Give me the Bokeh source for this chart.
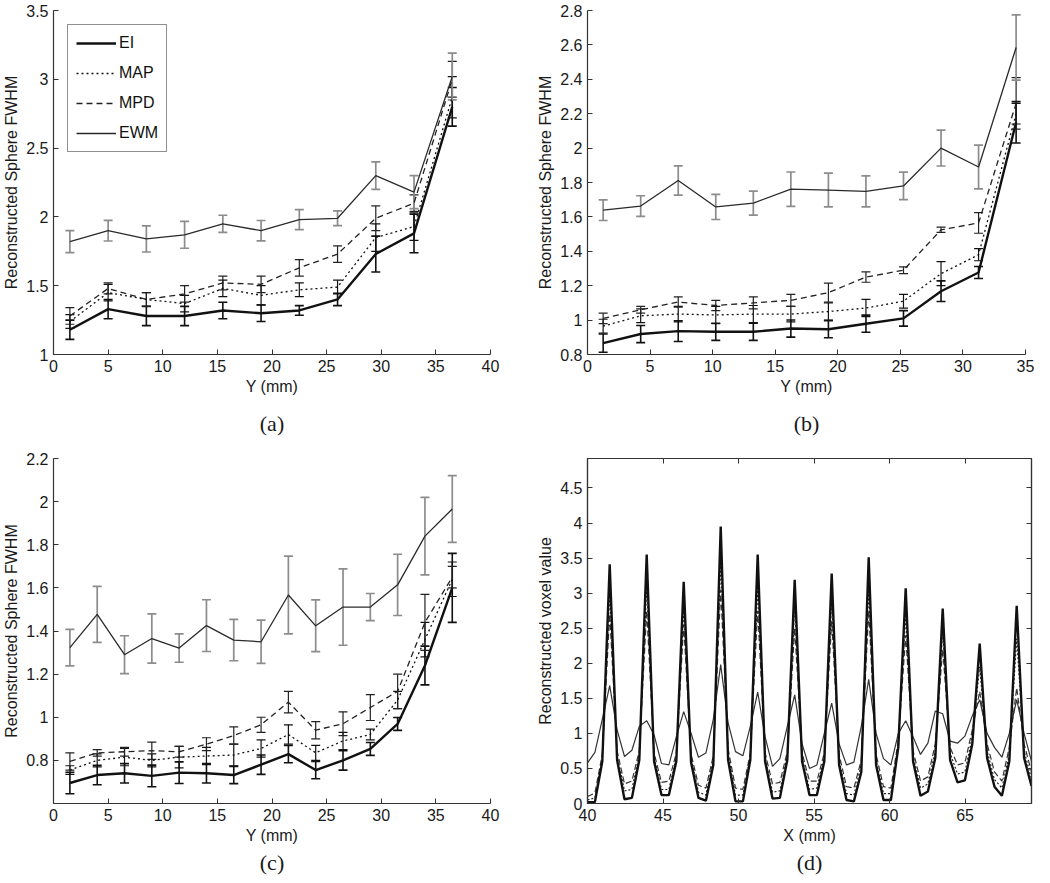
from bokeh.plotting import figure
from bokeh.models import (ColumnDataSource, Whisker, TeeHead, Range1d, FixedTicker,
                          LinearAxis, Title)
from bokeh.layouts import column, row
from bokeh.embed import file_html
from bokeh.resources import INLINE

FONT = "Liberation Sans"
SERIF = "Liberation Serif"

# ---------------- data ----------------
series_names = ["EI", "MAP", "MPD", "EWM"]

# panel (a)
a_pos = [1.5, 5, 8.5, 12, 15.5, 19, 22.5, 26, 29.5, 33, 36.5]
a_ei = [1.18, 1.33, 1.28, 1.28, 1.32, 1.30, 1.32, 1.40, 1.73, 1.88, 2.80]
a_ei_err = [0.07, 0.07, 0.07, 0.07, 0.06, 0.06, 0.035, 0.045, 0.13, 0.14, 0.14]
a_map = [1.24, 1.45, 1.40, 1.37, 1.48, 1.43, 1.47, 1.49, 1.85, 1.93, 2.87]
a_map_err = [0.05, 0.06, 0.05, 0.06, 0.06, 0.07, 0.05, 0.05, 0.10, 0.10, 0.15]
a_mpd = [1.28, 1.48, 1.40, 1.44, 1.52, 1.51, 1.63, 1.73, 1.99, 2.10, 3.00]
a_mpd_err = [0.06, 0.04, 0.05, 0.06, 0.05, 0.06, 0.06, 0.06, 0.09, 0.06, 0.13]
a_ewm = [1.82, 1.90, 1.84, 1.87, 1.95, 1.90, 1.98, 1.99, 2.30, 2.18, 3.02]
a_ewm_err = [0.08, 0.075, 0.095, 0.098, 0.062, 0.074, 0.073, 0.054, 0.10, 0.12, 0.17]

# panel (b)
b_pos = [1.25, 4.25, 7.25, 10.25, 13.25, 16.25, 19.25, 22.25, 25.25, 28.25, 31.25, 34.25]
b_ei = [0.866, 0.919, 0.936, 0.932, 0.932, 0.951, 0.947, 0.979, 1.01, 1.168, 1.277, 2.15]
b_ei_err = [0.053, 0.05, 0.06, 0.05, 0.05, 0.05, 0.05, 0.05, 0.045, 0.06, 0.035, 0.12]
b_map = [0.965, 1.025, 1.035, 1.03, 1.035, 1.035, 1.05, 1.07, 1.11, 1.27, 1.38, 2.2]
b_map_err = [0.04, 0.04, 0.045, 0.05, 0.05, 0.045, 0.05, 0.05, 0.04, 0.07, 0.035, 0.06]
b_mpd = [1.01, 1.06, 1.105, 1.085, 1.10, 1.115, 1.16, 1.25, 1.29, 1.525, 1.565, 2.26]
b_mpd_err = [0.03, 0.02, 0.03, 0.03, 0.035, 0.035, 0.055, 0.03, 0.02, 0.015, 0.06, 0.15]
b_ewm = [1.639, 1.663, 1.812, 1.658, 1.68, 1.761, 1.756, 1.748, 1.78, 2.0, 1.89, 2.585]
b_ewm_err = [0.06, 0.06, 0.085, 0.073, 0.07, 0.10, 0.098, 0.09, 0.08, 0.104, 0.127, 0.19]

# panel (c)
c_pos = [1.5, 4, 6.5, 9, 11.5, 14, 16.5, 19, 21.5, 24, 26.5, 29, 31.5, 34, 36.5]
c_ei = [0.695, 0.732, 0.74, 0.728, 0.743, 0.74, 0.732, 0.78, 0.829, 0.755, 0.80, 0.853, 0.969, 1.24, 1.6]
c_ei_err = [0.05, 0.045, 0.045, 0.05, 0.05, 0.045, 0.04, 0.045, 0.04, 0.04, 0.045, 0.03, 0.03, 0.09, 0.16]
c_map = [0.755, 0.80, 0.815, 0.80, 0.815, 0.82, 0.825, 0.855, 0.92, 0.835, 0.89, 0.92, 1.08, 1.36, 1.64]
c_map_err = [0.02, 0.03, 0.04, 0.03, 0.05, 0.04, 0.05, 0.04, 0.045, 0.035, 0.04, 0.025, 0.04, 0.08, 0.08]
c_mpd = [0.795, 0.835, 0.84, 0.845, 0.84, 0.875, 0.915, 0.965, 1.07, 0.94, 0.97, 1.045, 1.12, 1.44, 1.65]
c_mpd_err = [0.04, 0.015, 0.02, 0.04, 0.025, 0.03, 0.04, 0.035, 0.05, 0.04, 0.055, 0.06, 0.08, 0.13, 0.05]
c_ewm = [1.323, 1.477, 1.29, 1.365, 1.321, 1.425, 1.358, 1.35, 1.567, 1.424, 1.511, 1.511, 1.614, 1.84, 1.966]
c_ewm_err = [0.085, 0.13, 0.088, 0.114, 0.066, 0.12, 0.096, 0.1, 0.18, 0.12, 0.177, 0.063, 0.142, 0.18, 0.155]

# panel (d): voxel profile along X (mm)
d_x = [40.00, 40.49, 40.98, 41.47, 41.96, 42.45, 42.94, 43.43, 43.92, 44.41,
       44.90, 45.39, 45.88, 46.37, 46.86, 47.35, 47.84, 48.33, 48.82, 49.31,
       49.80, 50.29, 50.78, 51.27, 51.76, 52.25, 52.74, 53.23, 53.72, 54.21,
       54.70, 55.19, 55.68, 56.17, 56.66, 57.15, 57.64, 58.13, 58.62, 59.11,
       59.60, 60.09, 60.58, 61.07, 61.56, 62.05, 62.54, 63.03, 63.52, 64.01,
       64.50, 64.99, 65.48, 65.97, 66.46, 66.95, 67.44, 67.93, 68.42, 68.91,
       69.40]
d_ei = [0.02, 0.02, 0.60, 3.41, 0.62, 0.06, 0.08, 0.62, 3.55, 0.60,
        0.12, 0.12, 0.60, 3.16, 0.58, 0.08, 0.04, 0.55, 3.95, 0.62,
        0.03, 0.03, 0.62, 3.55, 0.60, 0.07, 0.08, 0.62, 3.19, 0.60,
        0.12, 0.12, 0.60, 3.28, 0.55, 0.05, 0.03, 0.45, 3.51, 0.55,
        0.05, 0.05, 0.80, 3.07, 0.60, 0.11, 0.17, 0.65, 2.78, 0.62,
        0.30, 0.33, 0.85, 2.28, 0.65, 0.24, 0.11, 0.60, 2.82, 0.65,
        0.25]
d_map = [0.05, 0.08, 0.65, 3.00, 0.68, 0.18, 0.20, 0.70, 3.10, 0.66,
         0.20, 0.20, 0.66, 2.80, 0.65, 0.16, 0.12, 0.62, 3.45, 0.70,
         0.12, 0.12, 0.68, 3.10, 0.66, 0.16, 0.18, 0.68, 2.80, 0.66,
         0.20, 0.22, 0.66, 2.90, 0.62, 0.14, 0.12, 0.55, 3.05, 0.62,
         0.14, 0.14, 0.85, 2.70, 0.68, 0.22, 0.28, 0.75, 2.45, 0.72,
         0.42, 0.45, 0.95, 1.95, 0.75, 0.34, 0.22, 0.70, 2.35, 0.75,
         0.35]
d_mpd = [0.10, 0.15, 0.70, 2.70, 0.75, 0.28, 0.32, 0.75, 2.75, 0.72,
         0.30, 0.32, 0.72, 2.55, 0.70, 0.26, 0.22, 0.68, 3.05, 0.78,
         0.22, 0.20, 0.72, 2.75, 0.72, 0.28, 0.30, 0.74, 2.50, 0.72,
         0.32, 0.32, 0.72, 2.60, 0.70, 0.24, 0.22, 0.62, 2.75, 0.70,
         0.24, 0.22, 0.90, 2.40, 0.75, 0.32, 0.38, 0.85, 2.20, 0.80,
         0.55, 0.58, 1.05, 1.60, 0.85, 0.45, 0.32, 0.80, 1.65, 0.85,
         0.45]
d_ewm = [0.58, 0.73, 1.20, 1.68, 1.05, 0.67, 0.76, 1.10, 1.18, 0.98,
         0.57, 0.55, 0.95, 1.31, 1.00, 0.66, 0.72, 1.20, 1.98, 1.15,
         0.74, 0.68, 1.10, 1.59, 0.95, 0.53, 0.64, 1.10, 1.55, 0.85,
         0.50, 0.55, 1.00, 1.43, 0.85, 0.55, 0.59, 1.10, 1.77, 1.00,
         0.64, 0.55, 1.00, 1.18, 0.95, 0.70, 0.86, 1.32, 1.28, 0.89,
         0.86, 0.96, 1.25, 1.48, 1.00, 0.80, 0.66, 1.00, 1.48, 1.00,
         0.60]

# tick labels
a_xticks = [0, 5, 10, 15, 20, 25, 30, 35, 40]
a_yticks = [1, 1.5, 2, 2.5, 3, 3.5]
a_ylabels = ["1", "1.5", "2", "2.5", "3", "3.5"]
b_xticks = [0, 5, 10, 15, 20, 25, 30, 35]
b_yticks = [0.8, 1.0, 1.2, 1.4, 1.6, 1.8, 2.0, 2.2, 2.4, 2.6, 2.8]
b_ylabels = ["0.8", "1", "1.2", "1.4", "1.6", "1.8", "2", "2.2", "2.4", "2.6", "2.8"]
c_xticks = [0, 5, 10, 15, 20, 25, 30, 35, 40]
c_yticks = [0.8, 1.0, 1.2, 1.4, 1.6, 1.8, 2.0, 2.2]
c_ylabels = ["0.8", "1", "1.2", "1.4", "1.6", "1.8", "2", "2.2"]
d_xticks = [40, 45, 50, 55, 60, 65]
d_yticks = [0, 0.5, 1, 1.5, 2, 2.5, 3, 3.5, 4, 4.5]
d_ylabels = ["0", "0.5", "1", "1.5", "2", "2.5", "3", "3.5", "4", "4.5"]

# ---------------- styles ----------------
STY = {
    "EI":  dict(color="#111111", width=2.4, dash="solid", bar="#111111", bar_w=1.6),
    "MAP": dict(color="#111111", width=1.3, dash="2 3", bar="#111111", bar_w=1.2),
    "MPD": dict(color="#222222", width=1.3, dash="6 4", bar="#222222", bar_w=1.2),
    "EWM": dict(color="#2a2a2a", width=1.3, dash="solid", bar="#8c8c8c", bar_w=1.7),
}
AX = "#333333"
FS = "16px"


def style_axis(ax, ticks, labels=None, size=FS):
    ax.ticker = FixedTicker(ticks=ticks)
    if labels is not None:
        ax.major_label_overrides = {t: l for t, l in zip(ticks, labels)}
    ax.axis_line_color = AX
    ax.axis_line_width = 1.2
    ax.major_tick_line_color = AX
    ax.major_tick_in = 5
    ax.major_tick_out = 0
    ax.minor_tick_line_color = None
    ax.major_label_text_font = FONT
    ax.major_label_text_font_size = size
    ax.major_label_text_color = "#1a1a1a"
    ax.axis_label_text_font = FONT
    ax.axis_label_text_font_size = size
    ax.axis_label_text_font_style = "normal"
    ax.axis_label_text_color = "#1a1a1a"
    ax.major_label_standoff = 5
    ax.axis_label_standoff = 3


def make_fig(xr, yr, xt, yt, ylabels, xlabel, ylabel, caption, fw, fh,
             bl, br, bt, bb, cap_standoff):
    p = figure(frame_width=fw, frame_height=fh, x_range=Range1d(*xr), y_range=Range1d(*yr),
               output_backend="svg", toolbar_location=None,
               min_border_left=bl, min_border_right=br, min_border_top=bt, min_border_bottom=bb)
    p.grid.visible = False
    p.outline_line_color = None
    p.background_fill_color = "white"
    p.border_fill_color = "white"
    style_axis(p.xaxis[0], xt, [str(t) for t in xt])
    style_axis(p.yaxis[0], yt, ylabels)
    p.xaxis[0].axis_label = xlabel
    p.yaxis[0].axis_label = ylabel
    p.add_layout(Title(text=caption, align="center", text_font=SERIF, text_font_size="22px",
                       text_font_style="normal", text_color="#1a1a1a", standoff=cap_standoff),
                 "below")
    return p


def add_series(p, xs, vals, errs, name, legend=False):
    s = STY[name]
    src = ColumnDataSource(dict(x=xs, y=vals,
                                lo=[v - e for v, e in zip(vals, errs)],
                                hi=[v + e for v, e in zip(vals, errs)]))
    w = Whisker(source=src, base="x", upper="hi", lower="lo", dimension="height",
                line_color=s["bar"], line_width=s["bar_w"],
                upper_head=TeeHead(size=9, line_color=s["bar"], line_width=s["bar_w"]),
                lower_head=TeeHead(size=9, line_color=s["bar"], line_width=s["bar_w"]))
    p.add_layout(w)
    kw = dict(legend_label=name) if legend else {}
    p.line("x", "y", source=src, line_color=s["color"], line_width=s["width"],
           line_dash=s["dash"], **kw)


# ---------------- panel (a) ----------------
pa = make_fig((0, 40), (1, 3.5), a_xticks, a_yticks, a_ylabels, "Y (mm)",
              "Reconstructed Sphere FWHM", "(a)", 437, 344, 52, 43, 10, 87, 22)
for name, v, e in zip(series_names, [a_ei, a_map, a_mpd, a_ewm],
                      [a_ei_err, a_map_err, a_mpd_err, a_ewm_err]):
    add_series(pa, a_pos, v, e, name, legend=True)
lg = pa.legend[0]
lg.location = "top_left"
lg.margin = 14
lg.padding = 8
lg.spacing = 10
lg.glyph_width = 40
lg.glyph_height = 20
lg.label_height = 20
lg.label_standoff = 3
lg.label_text_font = FONT
lg.label_text_font_size = FS
lg.label_text_color = "#111111"
lg.border_line_color = "#222222"
lg.border_line_width = 1.2
lg.background_fill_color = "white"
lg.background_fill_alpha = 1.0

# ---------------- panel (b) ----------------
pb = make_fig((0, 35), (0.8, 2.8), b_xticks, b_yticks, b_ylabels, "Y (mm)",
              "Reconstructed Sphere FWHM", "(b)", 438, 344, 54, 10, 10, 87, 22)
for name, v, e in zip(series_names, [b_ei, b_map, b_mpd, b_ewm],
                      [b_ei_err, b_map_err, b_mpd_err, b_ewm_err]):
    add_series(pb, b_pos, v, e, name)

# ---------------- panel (c) ----------------
pc = make_fig((0, 40), (0.6, 2.2), c_xticks, c_yticks, c_ylabels, "Y (mm)",
              "Reconstructed Sphere FWHM", "(c)", 437, 345, 52, 43, 12, 69, 2)
for name, v, e in zip(series_names, [c_ei, c_map, c_mpd, c_ewm],
                      [c_ei_err, c_map_err, c_mpd_err, c_ewm_err]):
    add_series(pc, c_pos, v, e, name)

# ---------------- panel (d) ----------------
pd_ = make_fig((40, 69.4), (0, 4.92), d_xticks, d_yticks, d_ylabels, "X (mm)",
               "Reconstructed voxel value", "(d)", 444, 345, 54, 4, 12, 69, 2)
pd_.outline_line_color = AX
pd_.outline_line_width = 1.2
top_ax = LinearAxis()
style_axis(top_ax, d_xticks, ["" for _ in d_xticks], size="1px")
top_ax.major_label_standoff = 0
pd_.add_layout(top_ax, "above")
right_ax = LinearAxis()
style_axis(right_ax, d_yticks, ["" for _ in d_yticks], size="1px")
right_ax.major_label_standoff = 0
pd_.add_layout(right_ax, "right")
d_styles = {"EI": dict(color="#111111", width=2.4, dash="solid"),
            "MAP": dict(color="#222222", width=1.2, dash="2 2"),
            "MPD": dict(color="#333333", width=1.2, dash="6 3"),
            "EWM": dict(color="#333333", width=1.2, dash="solid")}
dsrc = ColumnDataSource(dict(x=d_x, EI=d_ei, MAP=d_map, MPD=d_mpd, EWM=d_ewm))
for name in ["EWM", "MPD", "MAP", "EI"]:
    s = d_styles[name]
    pd_.line("x", name, source=dsrc, line_color=s["color"], line_width=s["width"],
             line_dash=s["dash"])

layout = column(row(pa, pb), row(pc, pd_))
open("out.html", "w").write(file_html(layout, INLINE))
